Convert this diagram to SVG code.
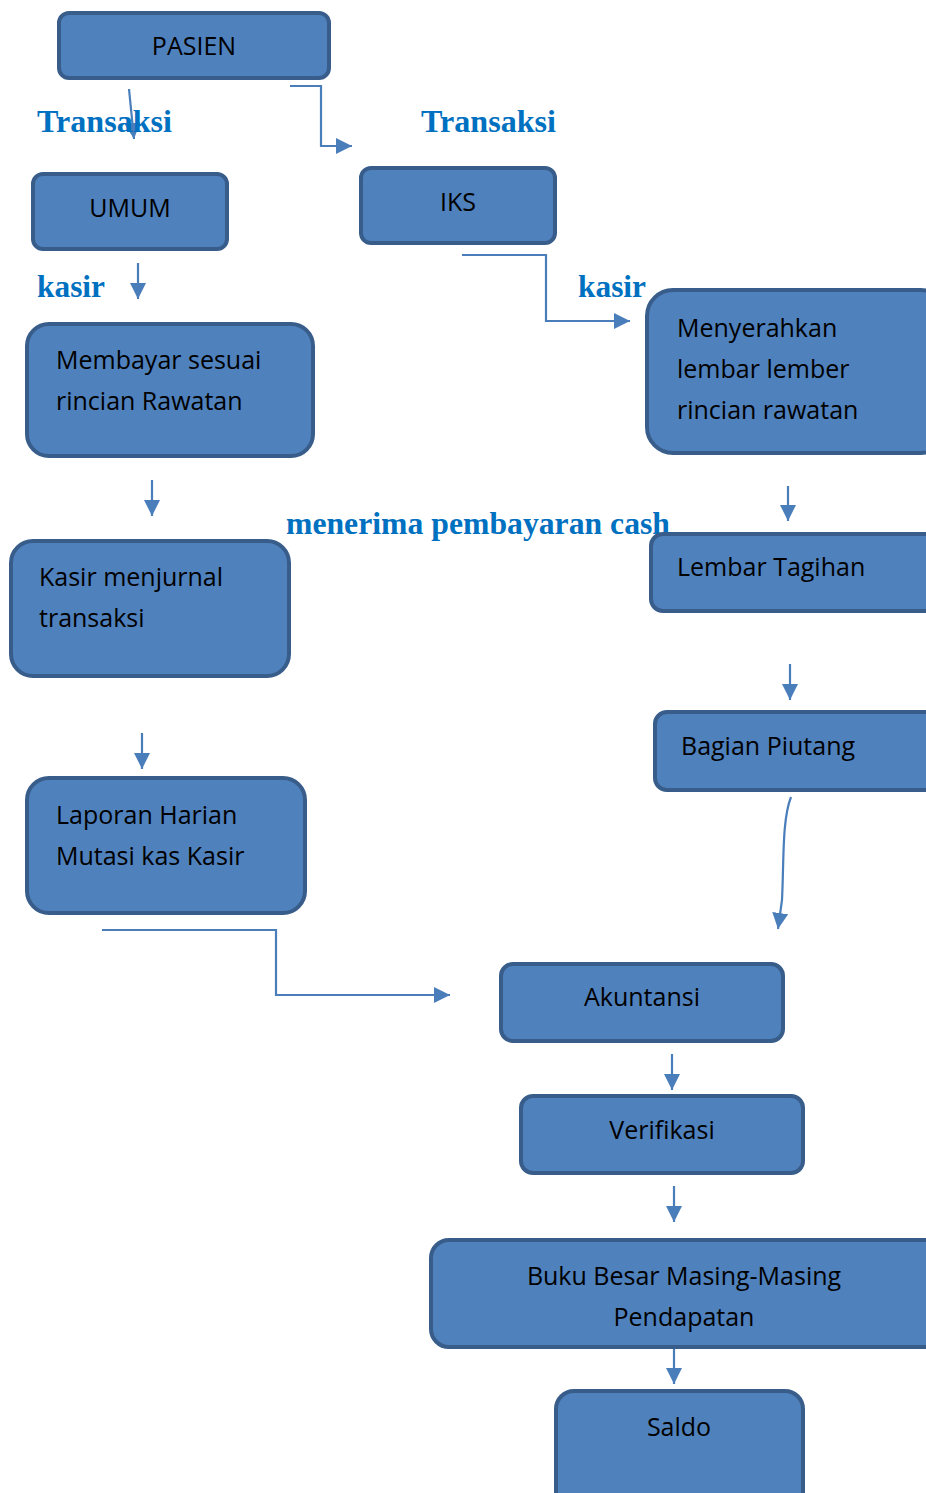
<svg xmlns="http://www.w3.org/2000/svg" width="926" height="1493" viewBox="0 0 926 1493">
<defs>
<style>
.box{fill:#4F81BD;stroke:#385D8A;stroke-width:4}
.t{font-family:"Open Sans","Liberation Sans",Arial,sans-serif;font-size:25px;fill:#000}
.c{text-anchor:middle}
.lbl{font-family:"Liberation Serif","Times New Roman",serif;font-weight:bold;font-size:31px;fill:#0070C0}
.con{fill:none;stroke:#4A7EBB;stroke-width:2.2;marker-end:url(#ah)}
</style>
<marker id="ah" markerUnits="userSpaceOnUse" markerWidth="18" markerHeight="16" refX="16" refY="8" orient="auto">
<path d="M0,0 L16,8 L0,16 Z" fill="#4A7EBB"/>
</marker>
</defs>
<rect width="926" height="1493" fill="#fff"/>
<g id="connectors">
<path class="con" d="M129,89 L134,139"/>
<path class="con" d="M290,86 H321 V146 H352"/>
<path class="con" d="M138,263 V299"/>
<path class="con" d="M462,255 H546 V321 H630"/>
<path class="con" d="M152,480 V516"/>
<path class="con" d="M788,486 V521"/>
<path class="con" d="M142,733 V769"/>
<path class="con" d="M790,664 V700"/>
<path class="con" d="M791,797 C782,820 784,860 782,900 L778,929"/>
<path class="con" d="M102,930 H276 V995 H450"/>
<path class="con" d="M672,1054 V1090"/>
<path class="con" d="M674,1186 V1222"/>
<path class="con" d="M674,1348 V1384"/>
</g>
<g id="labels">
<text class="lbl" x="37" y="132" textLength="135" lengthAdjust="spacingAndGlyphs">Transaksi</text>
<text class="lbl" x="421" y="132" textLength="135" lengthAdjust="spacingAndGlyphs">Transaksi</text>
<text class="lbl" x="37" y="297" textLength="68" lengthAdjust="spacingAndGlyphs">kasir</text>
<text class="lbl" x="578" y="297" textLength="68" lengthAdjust="spacingAndGlyphs">kasir</text>
<text class="lbl" x="286" y="534" textLength="384" lengthAdjust="spacingAndGlyphs">menerima pembayaran cash</text>
</g>
<g id="pasien"><rect class="box" x="59" y="13" width="270" height="65" rx="10"/><text class="t c" x="194" y="55">PASIEN</text></g>
<g id="umum"><rect class="box" x="33" y="174" width="194" height="75" rx="10"/><text class="t c" x="130" y="217">UMUM</text></g>
<g id="iks"><rect class="box" x="361" y="168" width="194" height="75" rx="10"/><text class="t c" x="458" y="211">IKS</text></g>
<g id="membayar"><rect class="box" x="27" y="324" width="286" height="132" rx="22"/><text class="t" x="56" y="369">Membayar sesuai</text><text class="t" x="56" y="410">rincian Rawatan</text></g>
<g id="menyerahkan"><rect class="box" x="647" y="290" width="300" height="163" rx="26"/><text class="t" x="677" y="337">Menyerahkan</text><text class="t" x="677" y="378">lembar lember</text><text class="t" x="677" y="419">rincian rawatan</text></g>
<g id="kasir-menjurnal"><rect class="box" x="11" y="541" width="278" height="135" rx="22"/><text class="t" x="39" y="586">Kasir menjurnal</text><text class="t" x="39" y="627">transaksi</text></g>
<g id="lembar-tagihan"><rect class="box" x="651" y="534" width="300" height="77" rx="12"/><text class="t" x="677" y="576">Lembar Tagihan</text></g>
<g id="bagian-piutang"><rect class="box" x="655" y="712" width="300" height="78" rx="12"/><text class="t" x="681" y="755">Bagian Piutang</text></g>
<g id="laporan"><rect class="box" x="27" y="778" width="278" height="135" rx="22"/><text class="t" x="56" y="824">Laporan Harian</text><text class="t" x="56" y="865">Mutasi kas Kasir</text></g>
<g id="akuntansi"><rect class="box" x="501" y="964" width="282" height="77" rx="12"/><text class="t c" x="642" y="1006">Akuntansi</text></g>
<g id="verifikasi"><rect class="box" x="521" y="1096" width="282" height="77" rx="12"/><text class="t c" x="662" y="1139">Verifikasi</text></g>
<g id="buku-besar"><rect class="box" x="431" y="1240" width="520" height="107" rx="18"/><text class="t c" x="684" y="1285">Buku Besar Masing-Masing</text><text class="t c" x="684" y="1326">Pendapatan</text></g>
<g id="saldo"><rect class="box" x="556" y="1391" width="247" height="130" rx="18"/><text class="t c" x="679" y="1436">Saldo</text></g>
</svg>
